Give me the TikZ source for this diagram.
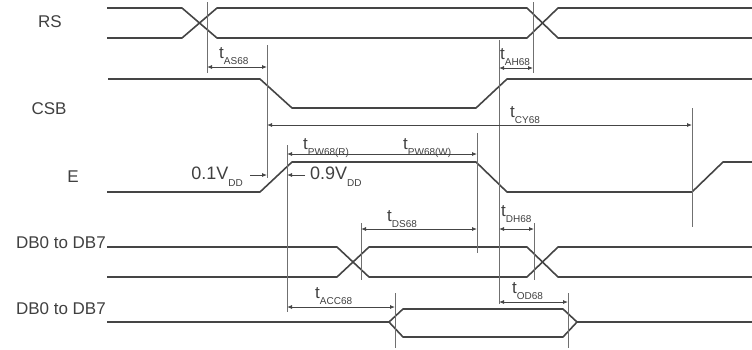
\documentclass[tikz,border=0pt]{standalone}
\usepackage{fontspec}
\setmainfont{Liberation Sans}
\usetikzlibrary{arrows.meta}
\definecolor{sig}{HTML}{454545}
\definecolor{refc}{HTML}{707070}
\definecolor{txt}{HTML}{404040}
\newcommand{\tlab}[1]{t\raisebox{-6.5pt}{\fontsize{10}{10}\selectfont #1}}
\newcommand{\vdd}{V\raisebox{-7pt}{\fontsize{10}{10}\selectfont DD}}
\begin{document}
\begin{tikzpicture}[x=1pt,y=-1pt,
  signal/.style={draw=sig,line width=1.6pt,line join=round},
  refline/.style={draw=refc,line width=0.8pt},
  dim/.style={draw=sig,line width=0.8pt,{Latex[length=5pt,width=4pt]}-{Latex[length=5pt,width=4pt]}},
  onearrow/.style={draw=sig,line width=0.8pt,-{Latex[length=5pt,width=4pt]}},
  lbl/.style={text=txt,font=\fontsize{17}{20}\selectfont,inner sep=0pt},
  tl/.style={text=txt,font=\fontsize{17}{20}\selectfont,inner sep=0pt,anchor=base west},
  vl/.style={text=txt,font=\fontsize{18}{20}\selectfont,inner sep=0pt}]
\useasboundingbox (0,0) rectangle (752,349);

% signal names
\node[lbl] (rs) at (50,22) {RS};
\node[lbl] (csb) at (49,109) {CSB};
\node[lbl] (e) at (73,177) {E};
\node[lbl,anchor=east] (db1) at (106,243) {DB0 to DB7};
\node[lbl,anchor=east] (db2) at (106,309) {DB0 to DB7};

% RS
\draw[signal] (107,8) -- (182,8) -- (217,38) -- (527,38) -- (558,8) -- (752,8);
\draw[signal] (107,38) -- (182,38) -- (217,8) -- (527,8) -- (558,38) -- (752,38);
% CSB
\draw[signal] (108,79) -- (260,79) -- (292,108) -- (476,108) -- (507,79) -- (752,79);
% E
\draw[signal] (107,192) -- (260,192) -- (292,162) -- (476,162) -- (507,192) -- (692,192) -- (723,162) -- (752,162);
% DB (write)
\draw[signal] (107,247) -- (337,247) -- (369,277) -- (527,277) -- (558,247) -- (752,247);
\draw[signal] (107,277) -- (337,277) -- (369,247) -- (527,247) -- (558,277) -- (752,277);
% DB (read)
\draw[signal] (107,322) -- (389,322) -- (403,309) -- (563,309) -- (577,322) -- (752,322);
\draw[signal] (389,322) -- (403,337) -- (563,337) -- (577,322);

% reference lines
\coordinate (a1) at (207,2);   \coordinate (a2) at (207,73);
\coordinate (b1) at (267,45);  \coordinate (b2) at (267,178);
\coordinate (c1) at (499,40);  \coordinate (c2) at (499,304);
\coordinate (d1) at (533,2);   \coordinate (d2) at (533,73);
\coordinate (f1) at (692,108); \coordinate (f2) at (692,227);
\coordinate (g1) at (287,145); \coordinate (g2) at (287,312);
\coordinate (h1) at (477,133); \coordinate (h2) at (477,253);
\coordinate (i1) at (361,223); \coordinate (i2) at (361,280);
\coordinate (j1) at (534,223); \coordinate (j2) at (534,280);
\coordinate (k1) at (395,293); \coordinate (k2) at (395,348);
\coordinate (l1) at (568,293); \coordinate (l2) at (568,348);
\foreach \p in {a,b,c,d,f,g,h,i,j,k,l} \draw[refline] (\p1) -- (\p2);

% dimension arrows
\draw[dim] (207,67) -- (267,67);
\draw[dim] (499,68) -- (533,68);
\draw[dim] (267,125) -- (692,125);
\draw[dim] (287,154) -- (477,154);
\draw[dim] (361,229) -- (477,229);
\draw[dim] (499,229) -- (534,229);
\draw[dim] (287,307) -- (395,307);
\draw[dim] (499,302) -- (568,302);
\draw[onearrow] (250,175) -- (267,175);
\draw[onearrow] (305,175) -- (287,175);

% timing labels
\node[tl] (tas) at (219,58) {\tlab{AS68}};
\node[tl] (tah) at (500,59) {\tlab{AH68}};
\node[tl] (tcy) at (510,117) {\tlab{CY68}};
\node[tl] (tpwr) at (303,149) {\tlab{PW68(R)}};
\node[tl] (tpww) at (403,149) {\tlab{PW68(W)}};
\node[tl] (tds) at (387,221) {\tlab{DS68}};
\node[tl] (tdh) at (501,216) {\tlab{DH68}};
\node[tl] (tacc) at (315,298) {\tlab{ACC68}};
\node[tl] (tod) at (512,293) {\tlab{OD68}};
\node[vl,anchor=base east] (v1) at (243,179) {0.1\vdd};
\node[vl,anchor=base west] (v9) at (310,179) {0.9\vdd};
\end{tikzpicture}
\end{document}
